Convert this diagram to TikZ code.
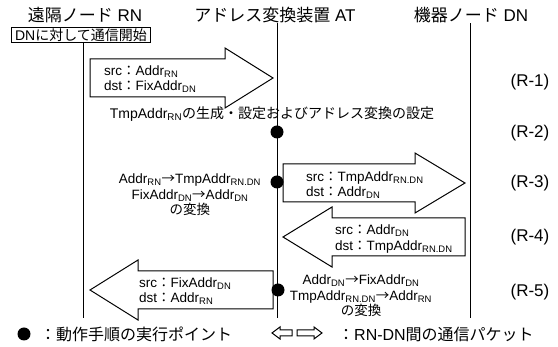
\documentclass[tikz,border=0pt]{standalone}
\usepackage{fontspec}
\setmainfont{Liberation Sans}
\newfontfamily\jp{Noto Sans CJK JP}
\usetikzlibrary{positioning}

\newcommand{\sbs}[1]{\textsubscript{#1}}
% block arrow: back x, neck x, tip x, centre y
\newcommand{\packetarrow}[4]{%
  \draw[packet] (#1,#4-19) -- (#2,#4-19) -- (#2,#4-30) -- (#3,#4)
    -- (#2,#4+30) -- (#2,#4+19) -- (#1,#4+19) -- cycle;}

\begin{document}
\begin{tikzpicture}[x=1pt,y=-1pt,
                    head/.style={font=\fontsize{17}{20}\selectfont,inner sep=0pt},
                    startbox/.style={draw,line width=1pt,font=\fontsize{14}{16}\selectfont,inner xsep=4pt,inner ysep=1pt},
                    tag/.style={font=\fontsize{17}{20}\selectfont,inner sep=0pt},
                    life/.style={line width=1pt},
                    packet/.style={draw,line width=1pt,fill=white},
                    pkttext/.style={align=left,anchor=west,font=\fontsize{13.5}{15.5}\selectfont,inner sep=0pt},
                    conv/.style={align=center,font=\fontsize{13.5}{15.5}\selectfont,inner sep=0pt},
                    point/.style={circle,fill,minimum size=13pt,inner sep=0pt},
                    legend/.style={font=\fontsize{16}{19}\selectfont,inner sep=0pt,anchor=west},
                   ]
  \useasboundingbox (0,0) rectangle (558,347);

  % headers
  \node[head] (rn) at (85,15) {{\jp 遠隔ノード} RN};
  \node[head] (at) at (275,15) {{\jp アドレス変換装置} AT};
  \node[head] (dn) at (471,15) {{\jp 機器ノード} DN};
  \node[startbox] (start) at (81,35) {DN{\jp に対して通信開始}};

  % lifelines
  \coordinate (rn-end) at (83,318);
  \coordinate (at-end) at (277,318);
  \coordinate (dn-end) at (470,318);
  \draw[life] (start.south -| rn-end) -- (rn-end);
  \draw[life] (at.south -| at-end) -- (at-end);
  \draw[life] (dn.south -| dn-end) -- (dn-end);

  % R-1
  \packetarrow{90}{225}{273}{78}
  \node[pkttext] (r1-text) at (104,79) {src{\jp ：}Addr\sbs{RN}\\dst{\jp ：}FixAddr\sbs{DN}};
  \node[tag] (r1) at (530,82) {(R-1)};

  % R-2
  \node[conv,font=\fontsize{14}{16}\selectfont] (r2-text) at (272,114) {TmpAddr\sbs{RN}{\jp の生成・設定およびアドレス変換の設定}};
  \node[point] (p2) at (277,132) {};
  \node[tag] (r2) at (530,133) {(R-2)};

  % R-3
  \packetarrow{283}{415}{465}{183}
  \node[point] (p3) at (277,182) {};
  \node[pkttext] (r3-text) at (306,185) {src{\jp ：}TmpAddr\sbs{RN.DN}\\dst{\jp ：}Addr\sbs{DN}};
  \node[conv] (r3-conv) at (190,195) {Addr\sbs{RN}{\jp →}TmpAddr\sbs{RN.DN}\\FixAddr\sbs{DN}{\jp →}Addr\sbs{DN}\\{\jp の変換}};
  \node[tag] (r3) at (530,183) {(R-3)};

  % R-4
  \packetarrow{465}{332}{283}{237}
  \node[pkttext] (r4-text) at (335,239) {src{\jp ：}Addr\sbs{DN}\\dst{\jp ：}TmpAddr\sbs{RN.DN}};
  \node[tag] (r4) at (530,237) {(R-4)};

  % R-5
  \packetarrow{273}{138}{90}{290}
  \node[point] (p5) at (278,290) {};
  \node[pkttext] (r5-text) at (139,291) {src{\jp ：}FixAddr\sbs{DN}\\dst{\jp ：}Addr\sbs{RN}};
  \node[conv] (r5-conv) at (361,296) {Addr\sbs{DN}{\jp →}FixAddr\sbs{DN}\\TmpAddr\sbs{RN.DN}{\jp →}Addr\sbs{RN}\\{\jp の変換}};
  \node[tag] (r5) at (530,292) {(R-5)};

  % legend
  \node[point] (key-point) at (24,334) {};
  \node[legend] (key-point-text) at (40,334) {\jp ：動作手順の実行ポイント};
  \draw[packet] (272,333) -- (280,327) -- (280,330) -- (292,330) -- (292,336) -- (280,336) -- (280,339) -- cycle;
  \draw[packet] (322,333) -- (314,327) -- (314,330) -- (297,330) -- (297,336) -- (314,336) -- (314,339) -- cycle;
  \node[legend] (key-packet-text) at (338,334) {{\jp ：}RN-DN{\jp 間の通信パケット}};
\end{tikzpicture}
\end{document}
